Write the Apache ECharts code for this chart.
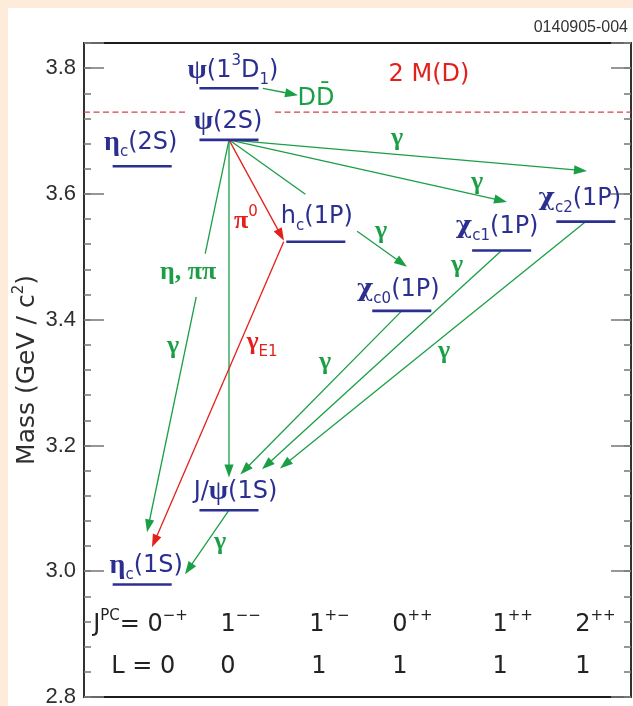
<!DOCTYPE html>
<html>
<head>
<meta charset="utf-8">
<title>Charmonium levels and transitions</title>
<script src="https://cdn.jsdelivr.net/npm/echarts@6/dist/echarts.min.js"></script>
<style>
  html, body { margin: 0; padding: 0; background: #fcecd9; }
  #chart { position: absolute; left: 8px; top: 8px; width: 625px; height: 698px; background: #ffffff; }
</style>
</head>
<body>
<div id="chart"></div>
<script>
// ---- Data -------------------------------------------------------------
// Charmonium states: column slot (by J^PC) and mass in GeV/c^2
const levelColumn = [1.67, 1.67, 0.67, 2.67, 3.66, 4.81, 5.78, 1.67, 0.67];
const levelMass   = [3.768, 3.686, 3.644, 3.524, 3.414, 3.510, 3.556, 3.097, 2.979];
const levelLabels = [
  '{g|ψ}{r|(1}{sup|3}{r|D}{sub|1}{r|)}',
  '{g|ψ}{r|(2S)}',
  '{g|η}{sub|c}{r|(2S)}',
  '{r|h}{sub|c}{r|(1P)}',
  '{x|χ}{sub|c0}{r|(1P)}',
  '{x|χ}{sub|c1}{r|(1P)}',
  '{x|χ}{sub|c2}{r|(1P)}',
  '{r|J/}{g|ψ}{r|(1S)}',
  '{g|η}{sub|c}{r|(1S)}'
];

// Open-charm threshold 2 M(D)
const thresholdMass = 3.730;

// Green transitions (photon / hadronic): start point, arrow tip, label gap (fraction of length)
const greenStart = [
  [2.06, 3.768], [1.67, 3.686], [1.67, 3.686], [1.67, 3.686], [1.67, 3.686],
  [1.67, 3.686], [3.66, 3.414], [4.81, 3.510], [5.78, 3.556], [1.67, 3.097]
];
const greenEnd = [
  [2.465, 3.757], [5.793, 3.6365], [4.872, 3.5873], [3.720, 3.4841], [1.67, 3.1492],
  [0.726, 3.0619], [1.80, 3.154], [2.05, 3.162], [2.257, 3.1635], [1.163, 2.9952]
];
const greenGap = [
  [0, 0], [0, 0], [0, 0], [0.419, 0.72], [0, 0],
  [0.28, 0.40], [0, 0], [0, 0], [0, 0], [0, 0]
];

// Red transitions: psi(2S) -> pi0 h_c, h_c -> gamma eta_c(1S)
const redStart = [[1.67, 3.686], [2.30, 3.524]];
const redEnd   = [[2.303, 3.5254], [0.783, 3.0381]];

// Transition labels
const greenNoteText = ['γ', 'γ', 'γ', 'γ', 'γ', 'γ', 'γ', 'γ', 'η, ππ'];
const greenNoteX    = [3.605, 4.526, 3.421, 4.296, 4.146, 2.776, 1.025, 1.566, 1.198];
const greenNoteY    = [3.689, 3.619, 3.540, 3.487, 3.349, 3.332, 3.357, 3.046, 3.476];
const redNoteText   = ['{rg|π}{rsup|0}', '{rg|γ}{rsub|E1}'];
const redNoteX      = [1.866, 2.05];
const redNoteY      = [3.556, 3.3635];

// Quantum-number rows under the levels
const jpcDigit  = ['0', '1', '1', '0', '1', '2'];
const jpcParity = ['−+', '−−', '+−', '++', '++', '++'];
const lValues   = ['0', '0', '1', '1', '1', '1'];
const columnX   = [0.67, 1.67, 2.67, 3.66, 4.81, 5.78];
const jpcRowMass = 2.915;
const lRowMass   = 2.8476;

// Axis ticks
const yMin = 2.8, yMax = 3.84, yMajor = 0.2, yMinor = 0.04;
const xMin = 0, xMax = 6.3;

// ---- Styles -----------------------------------------------------------
const BLUE = '#2b2f8f', GREEN = '#1a9f45', RED = '#e3201b', INK = '#222222';
const HALF = 0.34;                       // half width of a level bar (column units)
const levelLabelShift = [[4, -18], [-1, -18], [-1.5, -23.5], [1, -25], [-3.5, -21.5],
                         [-4.5, -24], [-6, -22.7], [6.5, -18.5], [4, -18.5]];
const jpcShift = [-49, -8.6, -6.6, -9.6, -9.1, -10.6];
const lShift   = [-31, -1, 3, -2, -1.5, -3];

const stateRich = {
  r:   { fontFamily: 'DejaVu Sans', fontSize: 24, color: BLUE, lineHeight: 34 },
  g:   { fontFamily: 'Liberation Serif', fontWeight: 'bold', fontSize: 28, color: BLUE, lineHeight: 34 },
  x:   { fontFamily: 'DejaVu Serif', fontWeight: 'bold', fontSize: 25, color: BLUE, lineHeight: 34 },
  sub: { fontFamily: 'DejaVu Sans', fontSize: 15, color: BLUE, lineHeight: 14, verticalAlign: 'bottom' },
  sup: { fontFamily: 'DejaVu Sans', fontSize: 15, color: BLUE, lineHeight: 9, verticalAlign: 'top' }
};
const noteRich = {
  gg:   { fontFamily: 'Liberation Serif', fontWeight: 'bold', fontSize: 26, color: GREEN, lineHeight: 34 },
  rg:   { fontFamily: 'Liberation Serif', fontWeight: 'bold', fontSize: 26, color: RED, lineHeight: 34 },
  rsup: { fontFamily: 'DejaVu Sans', fontSize: 15, color: RED, lineHeight: 9, verticalAlign: 'top' },
  rsub: { fontFamily: 'DejaVu Sans', fontSize: 15, color: RED, lineHeight: 14, verticalAlign: 'bottom' },
  gt:   { fontFamily: 'DejaVu Sans', fontSize: 24, color: GREEN, lineHeight: 34 },
  rt:   { fontFamily: 'DejaVu Sans', fontSize: 24, color: RED, lineHeight: 34 }
};
const rowRich = {
  t: { fontFamily: 'DejaVu Sans', fontSize: 24, color: INK, lineHeight: 32 },
  s: { fontFamily: 'DejaVu Sans', fontSize: 15, color: INK, lineHeight: 9, verticalAlign: 'top' }
};

// ---- Renderers --------------------------------------------------------
function lerp(a, b, t) { return [a[0] + (b[0] - a[0]) * t, a[1] + (b[1] - a[1]) * t]; }

function arrowRenderer(color) {
  return function (params, api) {
    const s = api.coord([api.value(0), api.value(1)]);
    const e = api.coord([api.value(2), api.value(3)]);
    const g0 = api.value(4), g1 = api.value(5);
    const dx = e[0] - s[0], dy = e[1] - s[1];
    const len = Math.hypot(dx, dy);
    const ux = dx / len, uy = dy / len;
    const headLen = 13, headW = 4.6;
    const base = [e[0] - ux * headLen, e[1] - uy * headLen];
    const tBase = (len - headLen) / len;
    const segs = g1 > g0 ? [[0, g0], [g1, tBase]] : [[0, tBase]];
    const children = segs.map(function (sg) {
      const a = lerp(s, e, sg[0]), b = lerp(s, e, sg[1] + 0.01);
      return { type: 'line', shape: { x1: a[0], y1: a[1], x2: b[0], y2: b[1] },
               style: { stroke: color, lineWidth: 1.3 } };
    });
    children.push({
      type: 'polygon',
      shape: { points: [e, [base[0] - uy * headW, base[1] + ux * headW], [base[0] + uy * headW, base[1] - ux * headW]] },
      style: { fill: color }
    });
    return { type: 'group', children: children };
  };
}

function pointLabel(value, text, rich, offset, align) {
  return {
    value: value,
    label: {
      show: true, position: 'inside', opacity: 1, formatter: function () { return text; },
      rich: rich, offset: offset || [0, 0], align: align || 'center'
    }
  };
}

const majorFmt = function (v) {
  const k = Math.round(v / yMajor);
  return Math.abs(v / yMajor - k) < 1e-6 ? v.toFixed(1) : '';
};

function yAxisDef(position, interval, tickLen, withLabels) {
  const ax = {
    type: 'value', min: yMin, max: yMax, interval: interval, position: position,
    axisLine: { show: false }, splitLine: { show: false },
    axisTick: { show: true, inside: true, length: tickLen, lineStyle: { color: '#7d7d7d', width: 1.6 } },
    axisLabel: { show: withLabels, margin: 8, fontFamily: 'Liberation Sans', fontSize: 22, color: '#2e2e2e', formatter: majorFmt }
  };
  if (withLabels) {
    ax.name = 'Mass (GeV / c{sup|2})';
    ax.nameLocation = 'middle';
    ax.nameRotate = 90;
    ax.nameGap = 42;
    ax.nameMoveOverlap = false;
    ax.nameTextStyle = {
      fontFamily: 'DejaVu Sans', fontSize: 25, color: '#2e2e2e', lineHeight: 30,
      rich: { sup: { fontFamily: 'DejaVu Sans', fontSize: 15, color: '#2e2e2e', lineHeight: 8, verticalAlign: 'top' } }
    };
  }
  return ax;
}

// ---- Series data ------------------------------------------------------
const greenData = greenStart.map(function (p, i) {
  return [p[0], p[1], greenEnd[i][0], greenEnd[i][1], greenGap[i][0], greenGap[i][1]];
});
const redData = redStart.map(function (p, i) {
  return [p[0], p[1], redEnd[i][0], redEnd[i][1], 0, 0];
});
const levelData = levelColumn.map(function (c, i) { return [c, levelMass[i]]; });

const labelData = [];
levelColumn.forEach(function (c, i) {
  labelData.push(pointLabel([c, levelMass[i]], levelLabels[i], stateRich, levelLabelShift[i]));
});
greenNoteText.forEach(function (t, i) {
  labelData.push(pointLabel([greenNoteX[i], greenNoteY[i]], '{gg|' + t + '}', noteRich));
});
redNoteText.forEach(function (t, i) {
  labelData.push(pointLabel([redNoteX[i], redNoteY[i]], t, noteRich));
});
labelData.push(pointLabel([2.672, 3.752], '{gt|DD\u0304}', noteRich));
labelData.push(pointLabel([3.973, 3.790], '{rt|2 M(D)}', noteRich));
columnX.forEach(function (c, i) {
  const jpc = (i === 0 ? '{t|J}{s|PC}{t|= ' : '{t|') + jpcDigit[i] + '}{s|' + jpcParity[i] + '}';
  labelData.push(pointLabel([c, jpcRowMass], jpc, rowRich, [jpcShift[i], 0], 'left'));
  const lt = i === 0 ? '{t|L = ' + lValues[i] + '}' : '{t|' + lValues[i] + '}';
  labelData.push(pointLabel([c, lRowMass], lt, rowRich, [lShift[i], 0], i === 0 ? 'left' : 'center'));
});

// ---- Chart ------------------------------------------------------------
const chart = echarts.init(document.getElementById('chart'), null, { renderer: 'canvas' });
chart.setOption({
  animation: false,
  backgroundColor: '#ffffff',
  grid: {
    left: 76, right: 2, top: 35, bottom: 9, show: true,
    borderColor: '#1c1c1c', borderWidth: 1.8, backgroundColor: 'transparent',
    outerBoundsMode: 'none'
  },
  xAxis: { type: 'value', min: xMin, max: xMax, show: false },
  yAxis: [
    yAxisDef('left', yMajor, 20, true),
    yAxisDef('left', yMinor, 7, false),
    yAxisDef('right', yMajor, 20, false),
    yAxisDef('right', yMinor, 7, false)
  ],
  graphic: [{
    type: 'text', right: 5, top: 12,
    style: { text: '0140905-004', font: '16px "Liberation Sans"', fill: '#333333' }
  }],
  series: [
    {
      type: 'custom', name: 'threshold', yAxisIndex: 0,
      data: [[xMin, 1.20, thresholdMass], [2.20, xMax, thresholdMass]],
      encode: { x: [0, 1], y: 2 },
      renderItem: function (params, api) {
        const a = api.coord([api.value(0), api.value(2)]);
        const b = api.coord([api.value(1), api.value(2)]);
        return { type: 'line', shape: { x1: a[0], y1: a[1], x2: b[0], y2: b[1] },
                 style: { stroke: '#d5404c', lineWidth: 1.2, lineDash: [6, 3.5] } };
      },
      z: 1
    },
    {
      type: 'custom', name: 'green transitions', yAxisIndex: 0,
      data: greenData, encode: { x: [0, 2], y: [1, 3] },
      renderItem: arrowRenderer(GREEN), z: 2
    },
    {
      type: 'custom', name: 'red transitions', yAxisIndex: 0,
      data: redData, encode: { x: [0, 2], y: [1, 3] },
      renderItem: arrowRenderer(RED), z: 2
    },
    {
      type: 'custom', name: 'levels', yAxisIndex: 0,
      data: levelData, encode: { x: 0, y: 1 },
      renderItem: function (params, api) {
        const a = api.coord([api.value(0) - HALF, api.value(1)]);
        const b = api.coord([api.value(0) + HALF, api.value(1)]);
        return { type: 'line', shape: { x1: a[0], y1: a[1], x2: b[0], y2: b[1] },
                 style: { stroke: BLUE, lineWidth: 2.6 } };
      },
      z: 3
    },
    {
      type: 'scatter', name: 'labels', yAxisIndex: 0,
      symbolSize: 0, silent: true, itemStyle: { opacity: 1 },
      data: labelData, z: 4
    }
  ]
});
</script>
</body>
</html>
